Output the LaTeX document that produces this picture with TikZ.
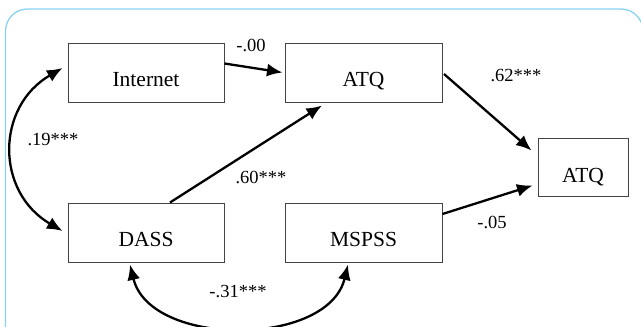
\documentclass[tikz,border=0pt]{standalone}
\usepackage{fontspec}
\setmainfont{Liberation Serif}
\usetikzlibrary{arrows.meta,calc}
\definecolor{frameblue}{HTML}{8AD2F0}
\definecolor{boxgray}{HTML}{444444}
\begin{document}
\begin{tikzpicture}[x=1pt,y=-1pt,
  box/.style={draw=boxgray,line width=1pt,fill=white,minimum width=156pt,minimum height=59pt,inner sep=0pt},
  boxtext/.style={font=\fontsize{21.5}{24}\selectfont,inner sep=0pt,text height=14pt,text depth=0pt},
  lab/.style={font=\fontsize{18.5}{20}\selectfont,inner sep=0pt},
  arr/.style={line width=2.3pt,-{Latex[length=15.5pt,width=13pt]}},
  darr/.style={line width=2.3pt,{Latex[length=15.5pt,width=13pt]}-{Latex[length=15.5pt,width=13pt]}}]
\useasboundingbox (0,0) rectangle (641,327);
\clip (0,0) rectangle (641,327);
\draw[frameblue,line width=1.3pt,rounded corners=22pt,fill=white] (5.5,9) rectangle (643,380);
% boxes
\node[box,label={[boxtext,yshift=-6.5pt]center:Internet}] (int) at (146,72.5) {};
\node[box,minimum width=157pt,label={[boxtext,yshift=-6.5pt]center:ATQ}] (atq1) at (363.5,72.5) {};
\node[box,label={[boxtext,yshift=-6.5pt]center:DASS}] (dass) at (146,232.5) {};
\node[box,minimum width=157pt,label={[boxtext,yshift=-6.5pt]center:MSPSS}] (mspss) at (363.5,232.5) {};
\node[box,minimum width=90pt,minimum height=58pt,label={[boxtext,yshift=-7.5pt]center:ATQ}] (atq2) at (583,167.5) {};
% arrows
\draw[arr] ([yshift=9pt]int.east) -- ([xshift=-2pt]atq1.west);
\draw[arr] ([xshift=24pt]dass.north) -- ([shift={(-41.5pt,-3pt)}]atq1.south);
\draw[arr] ([shift={(1.5pt,-1.5pt)}]atq1.east) -- ([shift={(-6pt,17pt)}]atq2.west);
\draw[arr] ([yshift=18.5pt]mspss.east) -- ([shift={(-5pt,-18pt)}]atq2.west);
\draw[darr] ([shift={(-5pt,4.5pt)}]int.west) .. controls +(-67pt,-39pt) and +(-67pt,39pt) .. ([shift={(-5pt,1.5pt)}]dass.west);
\draw[darr] ([shift={(-16pt,-2pt)}]dass.south) .. controls +(20pt,-83pt) and +(-20pt,-83pt) .. ([shift={(-15.5pt,-2pt)}]mspss.south);
% labels
\node[lab] (l1) at (251,45) {-.00};
\node[lab] (l2) at (53,140) {.19***};
\node[lab] (l3) at (261,177) {.60***};
\node[lab] (l4) at (238,292) {-.31***};
\node[lab] (l5) at (516,76) {.62***};
\node[lab] (l6) at (492,222) {-.05};
\end{tikzpicture}
\end{document}
